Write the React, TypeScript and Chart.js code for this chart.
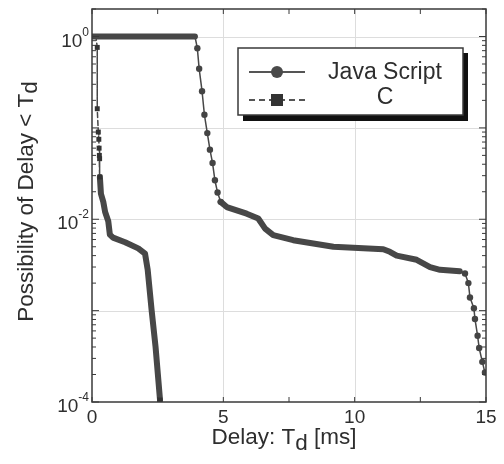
import React, { useEffect, useRef } from "react";
import { Chart, registerables } from "chart.js";

Chart.register(...registerables);

// ---- data ----
const jsDelay = [0, 3.92, 4.01, 4.08, 4.19, 4.28, 4.39, 4.49, 4.59, 4.68, 4.78, 4.9, 5.13, 5.89, 6.33, 6.59, 6.9, 7.66, 9.19, 11.09, 11.34, 11.6, 12.36, 12.87, 13.25, 14.0, 14.2, 14.33, 14.39, 14.54, 14.58, 14.68, 14.74, 14.86, 14.96];
const jsProb = [1, 1, 0.745, 0.443, 0.252, 0.139, 0.0877, 0.0578, 0.0412, 0.0267, 0.0196, 0.0155, 0.0136, 0.0115, 0.0102, 0.0079, 0.0067, 0.0059, 0.005, 0.0047, 0.0044, 0.004, 0.0036, 0.003, 0.0028, 0.0027, 0.00255, 0.002, 0.00139, 0.00106, 0.00081, 0.00053, 0.00039, 0.000275, 0.00021];

const cDelay = [0.1, 0.15, 0.2, 0.2, 0.24, 0.26, 0.27, 0.28, 0.29, 0.3, 0.34, 0.43, 0.5, 0.62, 0.68, 0.8, 1.26, 1.76, 2.02, 2.12, 2.27, 2.42, 2.59];
const cProb = [1, 1, 0.76, 0.162, 0.09, 0.075, 0.06, 0.05, 0.046, 0.029, 0.019, 0.0155, 0.012, 0.0095, 0.0068, 0.0063, 0.0056, 0.0048, 0.0042, 0.0028, 0.00101, 0.0004, 0.000105];

const seriesNames = ["Java Script", "C"];
const xTickValues = [0, 5, 10, 15];
const xTickLabels = ["0", "5", "10", "15"];
const yLabelExponents = [0, -2, -4];
const xTitle = ["Delay: T", "d", " [ms]"];
const yTitle = ["Possibility of Delay < T", "d"];

const FONT = '"Liberation Sans", Arial, Helvetica, sans-serif';
const LINE = "#474747";
const TEXT = "#2e2e2e";

const decoPlugin = {
  id: "deco",
  beforeDatasetsDraw(chart: any) {
    const { ctx, chartArea: a, scales } = chart;
    const xs = scales.x, ys = scales.y;
    ctx.save();
    ctx.strokeStyle = "#dddddd";
    ctx.lineWidth = 1;
    [5, 10].forEach((v) => {
      const px = Math.round(xs.getPixelForValue(v)) + 0.5;
      ctx.beginPath(); ctx.moveTo(px, a.top); ctx.lineTo(px, a.bottom); ctx.stroke();
    });
    [1, 0.1, 0.01, 0.001].forEach((v) => {
      const py = Math.round(ys.getPixelForValue(v)) + 0.5;
      ctx.beginPath(); ctx.moveTo(a.left, py); ctx.lineTo(a.right, py); ctx.stroke();
    });
    ctx.restore();
  },
  afterDatasetsDraw(chart: any) {
    const { ctx, chartArea: a, scales } = chart;
    const xs = scales.x, ys = scales.y;
    ctx.save();
    // frame
    ctx.strokeStyle = "#3a3a3a";
    ctx.lineWidth = 1.5;
    ctx.strokeRect(a.left, a.top, a.right - a.left, a.bottom - a.top);
    // x ticks
    ctx.lineWidth = 1;
    for (let v = 0; v <= 15; v += 2.5) {
      const px = xs.getPixelForValue(v);
      ctx.beginPath();
      ctx.moveTo(px, a.bottom); ctx.lineTo(px, a.bottom - 5);
      ctx.moveTo(px, a.top); ctx.lineTo(px, a.top + 5);
      ctx.stroke();
    }
    // y ticks
    for (let e = -4; e <= 0; e++) {
      for (let k = 1; k <= 9; k++) {
        const v = k * Math.pow(10, e);
        if (v > ys.max || v < ys.min) continue;
        const py = ys.getPixelForValue(v);
        const len = k === 1 ? 7 : 4;
        ctx.beginPath();
        ctx.moveTo(a.left, py); ctx.lineTo(a.left + len, py);
        ctx.moveTo(a.right, py); ctx.lineTo(a.right - len, py);
        ctx.stroke();
      }
    }
    // x tick labels
    ctx.fillStyle = TEXT;
    ctx.font = `19px ${FONT}`;
    ctx.textAlign = "center";
    ctx.textBaseline = "alphabetic";
    xTickValues.forEach((v, i) => {
      ctx.fillText(xTickLabels[i], xs.getPixelForValue(v), a.bottom + 21);
    });
    // y tick labels 10^n
    yLabelExponents.forEach((e) => {
      const py = ys.getPixelForValue(Math.pow(10, e));
      ctx.font = `12px ${FONT}`;
      const sup = String(e);
      const sw = ctx.measureText(sup).width;
      ctx.textAlign = "right";
      ctx.fillText(sup, a.left - 3, py - 1);
      ctx.font = `19px ${FONT}`;
      ctx.fillText("10", a.left - 3 - sw, py + 10);
    });
    // x title with subscript
    ctx.textAlign = "left";
    ctx.font = `22.5px ${FONT}`;
    const w0 = ctx.measureText(xTitle[0]).width;
    const w1 = ctx.measureText(xTitle[1]).width;
    const w2 = ctx.measureText(xTitle[2]).width;
    const cx = (a.left + a.right) / 2 - 5;
    const sx = cx - (w0 + w1 + w2) / 2;
    const by = 449;
    ctx.fillText(xTitle[0], sx, by - 5);
    ctx.fillText(xTitle[1], sx + w0, by + 1);
    ctx.fillText(xTitle[2], sx + w0 + w1, by - 5);
    // y title rotated
    ctx.save();
    const cy = (a.top + a.bottom) / 2 - 4;
    ctx.translate(33, cy);
    ctx.rotate(-Math.PI / 2);
    const v0 = ctx.measureText(yTitle[0]).width;
    const v1 = ctx.measureText(yTitle[1]).width;
    const st = -(v0 + v1) / 2;
    ctx.fillText(yTitle[0], st, 0);
    ctx.fillText(yTitle[1], st + v0, 4);
    ctx.restore();

    // legend
    const L = 238, T = 48, R = 463, B = 115;
    ctx.fillStyle = "#111111";
    ctx.fillRect(L + 5, T + 5, R - L, B - T + 1);
    ctx.fillStyle = "#ffffff";
    ctx.fillRect(L, T, R - L, B - T);
    ctx.strokeStyle = "#3a3a3a";
    ctx.lineWidth = 1.5;
    ctx.strokeRect(L, T, R - L, B - T);
    // JS sample
    ctx.strokeStyle = "#555555";
    ctx.fillStyle = "#4a4a4a";
    ctx.lineWidth = 2;
    ctx.beginPath(); ctx.moveTo(249, 72); ctx.lineTo(305, 72); ctx.stroke();
    ctx.beginPath(); ctx.arc(277, 72, 6, 0, Math.PI * 2); ctx.fill();
    // C sample
    ctx.setLineDash([6, 4]);
    ctx.beginPath(); ctx.moveTo(249, 100); ctx.lineTo(305, 100); ctx.stroke();
    ctx.setLineDash([]);
    ctx.fillStyle = "#333333";
    ctx.fillRect(271, 94, 12, 12);
    // legend text
    ctx.fillStyle = TEXT;
    ctx.font = `23px ${FONT}`;
    ctx.textAlign = "center";
    ctx.fillText(seriesNames[0], 385, 79);
    ctx.fillText(seriesNames[1], 385, 104);
    ctx.restore();
  },
};

export default function App() {
  const ref = useRef<HTMLCanvasElement | null>(null);
  useEffect(() => {
    if (!ref.current) return;
    const jsDense = (x: number) => x < 3.95 || (x > 4.95 && x < 14.05);
    const chart = new Chart(ref.current, {
      type: "line",
      data: {
        datasets: [
          {
            label: seriesNames[0],
            data: jsDelay.map((x, i) => ({ x, y: jsProb[i] })),
            borderColor: LINE,
            backgroundColor: LINE,
            pointBackgroundColor: "#444444",
            pointBorderColor: "#444444",
            pointStyle: "circle",
            pointRadius: (c: any) => (jsDense(jsDelay[c.dataIndex]) ? 0 : 3.2),
            pointBorderWidth: 0,
            borderWidth: 1.5,
            borderCapStyle: "round",
            borderJoinStyle: "round",
            tension: 0,
            segment: {
              borderWidth: (c: any) =>
                c.p1.parsed.x <= 3.95 || (c.p0.parsed.x >= 4.85 && c.p1.parsed.x <= 14.05) ? 6 : 1.5,
            },
          } as any,
          {
            label: seriesNames[1],
            data: cDelay.map((x, i) => ({ x, y: cProb[i] })),
            borderColor: LINE,
            backgroundColor: "#333333",
            pointBackgroundColor: "#333333",
            pointBorderColor: "#333333",
            pointStyle: "rect",
            pointRadius: (c: any) => {
              const y = cProb[c.dataIndex];
              return y >= 0.029 && y < 0.9 ? 3.5 : c.dataIndex === cProb.length - 1 ? 3.5 : 0;
            },
            pointBorderWidth: 0,
            borderWidth: 1.5,
            borderCapStyle: "round",
            borderJoinStyle: "round",
            tension: 0,
            segment: {
              borderWidth: (c: any) => (c.p0.parsed.y <= 0.03 ? 6 : 1.5),
              borderDash: (c: any) => (c.p0.parsed.y <= 0.03 ? [] : [5, 3]),
            },
          } as any,
        ],
      },
      options: {
        animation: false,
        responsive: false,
        devicePixelRatio: 1,
        layout: { padding: { left: 92, right: 18, top: 9, bottom: 62 } },
        scales: {
          x: { type: "linear", min: 0, max: 15, display: false },
          y: { type: "logarithmic", min: 1e-4, max: 2, display: false },
        },
        plugins: { legend: { display: false }, tooltip: { enabled: false } },
      },
      plugins: [decoPlugin],
    });
    return () => chart.destroy();
  }, []);
  return (
    <div style={{ position: "absolute", left: 0, top: 0, width: 504, height: 464, background: "#fff" }}>
      <canvas ref={ref} width={504} height={464} style={{ display: "block" }} />
    </div>
  );
}
